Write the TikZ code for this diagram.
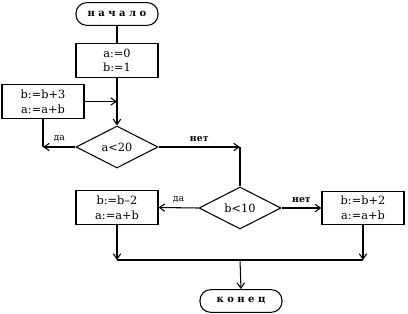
\documentclass[tikz,border=0pt]{standalone}
\usepackage{fontspec}
\setmainfont{DejaVu Serif}
\usetikzlibrary{arrows.meta,positioning,shapes.geometric}
\tikzset{
  box/.style={draw, thick, align=center, inner sep=2pt, minimum width=61.5pt,
              minimum height=25pt, font=\fontsize{8.5}{11}\selectfont},
  term/.style={draw, thick, rounded corners=8pt, minimum width=61.5pt,
               minimum height=17pt, inner sep=2pt, font=\fontsize{7.5}{9}\selectfont\bfseries},
  cond/.style={draw, thick, diamond, aspect=2, inner sep=0pt, minimum width=61.5pt,
               minimum height=31.5pt, font=\fontsize{8.5}{11}\selectfont},
  flow/.style={-{Straight Barb[length=4pt,width=5.5pt]}, thick},
  link/.style={thick},
  tag/.style={font=\fontsize{7}{8}\selectfont},
}
\begin{document}
\begin{tikzpicture}[x=0.75pt, y=-0.75pt]
  \useasboundingbox (0,0) rectangle (408,314);
  % main column
  \node[term] (start) at (117,14) {н а ч а л о};
  \node[box] (init) at (117,60.5) {a:=0\\b:=1};
  \node[box] (inc3) at (43,101.5) {b:=b+3\\a:=a+b};
  \node[cond] (ta) at (117,147) {a<20};
  \node[cond] (tb) at (240,208) {b<10};
  \node[box] (dec2) at (117,207.5) {b:=b--2\\a:=a+b};
  \node[box] (inc2) at (363,208) {b:=b+2\\a:=a+b};
  \node[term] (stop) at (241,301) {к о н е ц};
  \coordinate (join) at (240,260);
  % connectors
  \draw[link] (start) -- (init);
  \draw[flow] (init) -- (ta);
  \draw[flow] (inc3.east) -- (inc3.east -| init.south);
  \draw[flow] (ta.west) -- (ta.west -| inc3.south) node[tag, pos=0.5, above] {да};
  \draw[link] (ta.west -| inc3.south) -- (inc3.south);
  \draw[flow] (ta.east) -- (ta.east -| tb.north) node[tag, pos=0.5, above] {\bfseries нет};
  \draw[link] (ta.east -| tb.north) -- (tb.north);
  \draw[flow] (tb.west) -- (dec2.east) node[tag, pos=0.5, above] {да};
  \draw[flow] (tb.east) -- (inc2.west) node[tag, pos=0.5, above] {\bfseries нет};
  \draw[flow] (dec2.south) -- (dec2.south |- join);
  \draw[flow] (inc2.south) -- (inc2.south |- join);
  \draw[link] (dec2.south |- join) -- (inc2.south |- join);
  \draw[flow] (join) -- (stop.north);
\end{tikzpicture}
\end{document}
